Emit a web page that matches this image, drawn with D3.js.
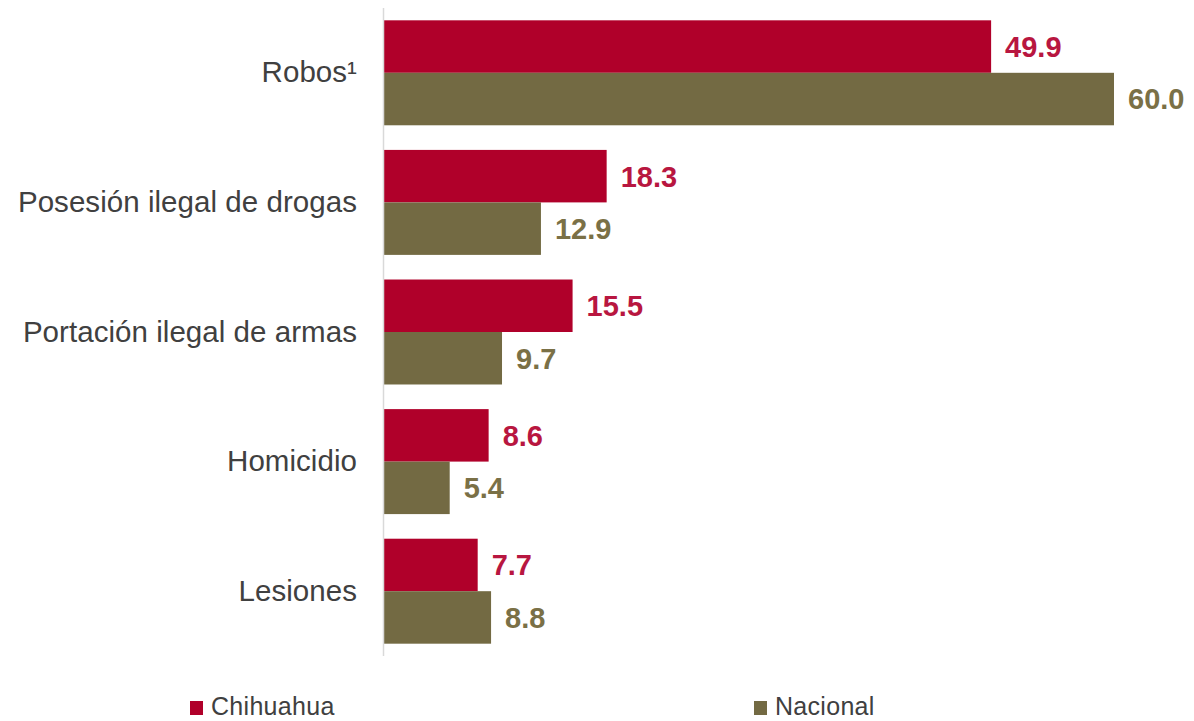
<!DOCTYPE html>
<html><head><meta charset="utf-8">
<script src="https://cdn.jsdelivr.net/npm/d3@7/dist/d3.min.js"></script>
<style>body{margin:0;background:#fff;} svg{display:block;}</style>
</head><body>
<svg id="chart" width="1194" height="721"></svg>
<script>
const categories = ["Robos¹", "Posesión ilegal de drogas", "Portación ilegal de armas", "Homicidio", "Lesiones"];
const seriesNames = ["Chihuahua", "Nacional"];
const chihuahua = [49.9, 18.3, 15.5, 8.6, 7.7];
const nacional = [60.0, 12.9, 9.7, 5.4, 8.8];
const colors = ["#B0002A", "#736A43"];
const labelColors = ["#B81640", "#7A7046"];

const svg = d3.select("#chart");
const font = "Liberation Sans, Arial, sans-serif";
const x = d3.scaleLinear().domain([0, 60]).range([384, 1114]);
const y = d3.scaleBand().domain(categories).range([8, 656]).paddingInner(0.19).paddingOuter(0.095);
const ySub = d3.scaleBand().domain(seriesNames).range([0, y.bandwidth()]);

const data = categories.map((c, i) => ({cat: c, vals: [chihuahua[i], nacional[i]]}));

const g = svg.append("g");
data.forEach(d => {
  d.vals.forEach((v, j) => {
    const yy = y(d.cat) + ySub(seriesNames[j]);
    g.append("rect").attr("x", x(0)).attr("y", yy)
      .attr("width", x(v) - x(0)).attr("height", ySub.bandwidth())
      .attr("fill", colors[j]);
    g.append("text").attr("x", x(v) + 14).attr("y", yy + ySub.bandwidth() / 2)
      .attr("dy", "0.36em").attr("fill", labelColors[j])
      .attr("font-family", font)
      .attr("font-size", 29).attr("font-weight", "bold")
      .text(v.toFixed(1));
  });
  g.append("text").attr("x", 357).attr("y", y(d.cat) + y.bandwidth() / 2 - 1)
    .attr("dy", "0.36em").attr("text-anchor", "end").attr("fill", "#404040")
    .attr("font-family", font).attr("letter-spacing", 0.05)
    .attr("font-size", 29.5).text(d.cat);
});

svg.append("line").attr("x1", 383.5).attr("x2", 383.5).attr("y1", 8).attr("y2", 656)
  .attr("stroke", "#d9d9d9").attr("stroke-width", 1.5);

const legendX = [190, 754];
seriesNames.forEach((s, j) => {
  svg.append("rect").attr("x", legendX[j]).attr("y", 701).attr("width", 13).attr("height", 14).attr("fill", colors[j]);
  svg.append("text").attr("x", legendX[j] + 21).attr("y", 715)
    .attr("fill", "#404040").attr("font-family", font).attr("letter-spacing", 0.3)
    .attr("font-size", 25).text(s);
});
</script>
</body></html>
